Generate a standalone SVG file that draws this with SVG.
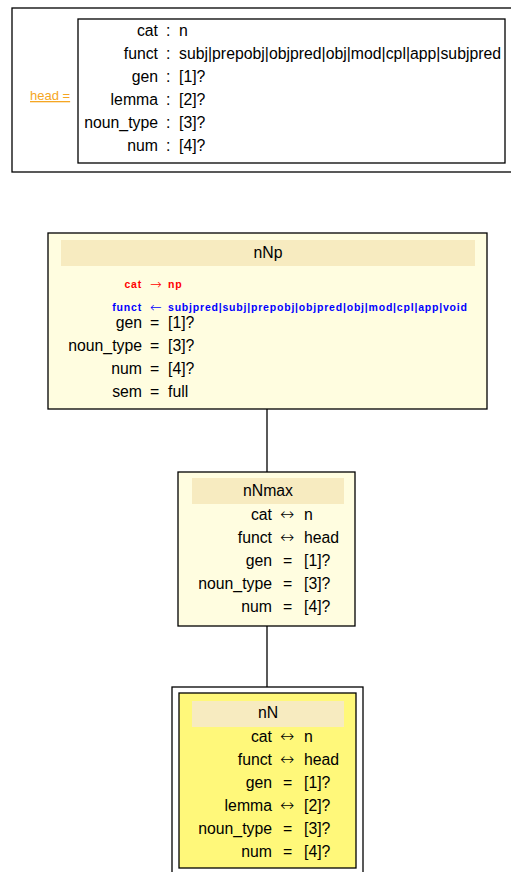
<svg xmlns="http://www.w3.org/2000/svg" width="511" height="872" viewBox="0 0 511 872">
<style>
text{font-family:"Liberation Sans",Arial,sans-serif;font-size:15.8px;fill:#000}
.r{text-anchor:end}
.m{text-anchor:middle}
.box{fill:#fffde0;stroke:#000;stroke-width:1.3}
.hdr{fill:#f7ebc0}
.sm{font-size:10.5px;font-weight:bold;letter-spacing:0.8px}
.ar{font-family:"DejaVu Sans",sans-serif;font-size:14px;font-weight:200;letter-spacing:0}
.ar2{font-family:"DejaVu Sans",sans-serif;font-size:17px;font-weight:200}
.red{fill:#ff0000}
.blue{fill:#0000ff}
.line{stroke:#000;stroke-width:1.3;fill:none}
</style>
<rect width="511" height="872" fill="#fff"/>
<g id="head">
<rect x="12" y="8" width="510" height="164" fill="#fff" stroke="#000" stroke-width="1.3"/>
<text x="30" y="100" style="fill:#f5a623;text-decoration:underline;font-size:13px">head =</text>
<rect x="78" y="19" width="427" height="144" fill="#fff" stroke="#000" stroke-width="1.3"/>
<text class="r" x="158" y="36">cat</text><text x="166" y="36">:</text><text x="179" y="36">n</text>
<text class="r" x="158" y="59">funct</text><text x="166" y="59">:</text><text x="179" y="59">subj|prepobj|objpred|obj|mod|cpl|app|subjpred</text>
<text class="r" x="158" y="82">gen</text><text x="166" y="82">:</text><text x="179" y="82">[1]?</text>
<text class="r" x="158" y="105">lemma</text><text x="166" y="105">:</text><text x="179" y="105">[2]?</text>
<text class="r" x="158" y="128">noun_type</text><text x="166" y="128">:</text><text x="179" y="128">[3]?</text>
<text class="r" x="158" y="151">num</text><text x="166" y="151">:</text><text x="179" y="151">[4]?</text>
</g>
<g id="connectors">
<line class="line" x1="267" y1="409" x2="267" y2="472"/>
<line class="line" x1="267" y1="626" x2="267" y2="687"/>
</g>
<g id="nNp">
<rect class="box" x="48" y="233" width="439" height="176"/>
<rect class="hdr" x="61" y="240" width="414" height="26"/>
<text class="m" x="268" y="258">nNp</text>
<text class="r sm red" x="142" y="288">cat</text><text class="ar red" x="150" y="289">→</text><text class="sm red" x="168" y="288">np</text>
<text class="r sm blue" x="142" y="311">funct</text><text class="ar blue" x="150" y="312">←</text><text class="sm blue" x="168" y="311">subjpred|subj|prepobj|objpred|obj|mod|cpl|app|void</text>
<text class="r" x="142" y="328">gen</text><text x="150" y="328">=</text><text x="168" y="328">[1]?</text>
<text class="r" x="142" y="351">noun_type</text><text x="150" y="351">=</text><text x="168" y="351">[3]?</text>
<text class="r" x="142" y="374">num</text><text x="150" y="374">=</text><text x="168" y="374">[4]?</text>
<text class="r" x="142" y="397">sem</text><text x="150" y="397">=</text><text x="168" y="397">full</text>
</g>
<g id="nNmax">
<rect class="box" x="178" y="472" width="177" height="154"/>
<rect class="hdr" x="192" y="478" width="152" height="26"/>
<text class="m" x="268" y="496">nNmax</text>
<text class="r" x="272" y="520">cat</text><text class="ar2" x="280" y="520">↔</text><text x="304" y="520">n</text>
<text class="r" x="272" y="543">funct</text><text class="ar2" x="280" y="543">↔</text><text x="304" y="543">head</text>
<text class="r" x="272" y="566">gen</text><text x="283" y="566">=</text><text x="304" y="566">[1]?</text>
<text class="r" x="272" y="589">noun_type</text><text x="283" y="589">=</text><text x="304" y="589">[3]?</text>
<text class="r" x="272" y="612">num</text><text x="283" y="612">=</text><text x="304" y="612">[4]?</text>
</g>
<g id="nN">
<rect x="172" y="687" width="191" height="200" fill="#fff" stroke="#000" stroke-width="1.3"/>
<rect x="179" y="693" width="177" height="175" fill="#fff87a" stroke="#000" stroke-width="1.3"/>
<rect class="hdr" x="192" y="701" width="152" height="26"/>
<text class="m" x="268" y="718">nN</text>
<text class="r" x="272" y="742">cat</text><text class="ar2" x="280" y="742">↔</text><text x="304" y="742">n</text>
<text class="r" x="272" y="765">funct</text><text class="ar2" x="280" y="765">↔</text><text x="304" y="765">head</text>
<text class="r" x="272" y="788">gen</text><text x="283" y="788">=</text><text x="304" y="788">[1]?</text>
<text class="r" x="272" y="811">lemma</text><text class="ar2" x="280" y="811">↔</text><text x="304" y="811">[2]?</text>
<text class="r" x="272" y="834">noun_type</text><text x="283" y="834">=</text><text x="304" y="834">[3]?</text>
<text class="r" x="272" y="857">num</text><text x="283" y="857">=</text><text x="304" y="857">[4]?</text>
</g>
</svg>
